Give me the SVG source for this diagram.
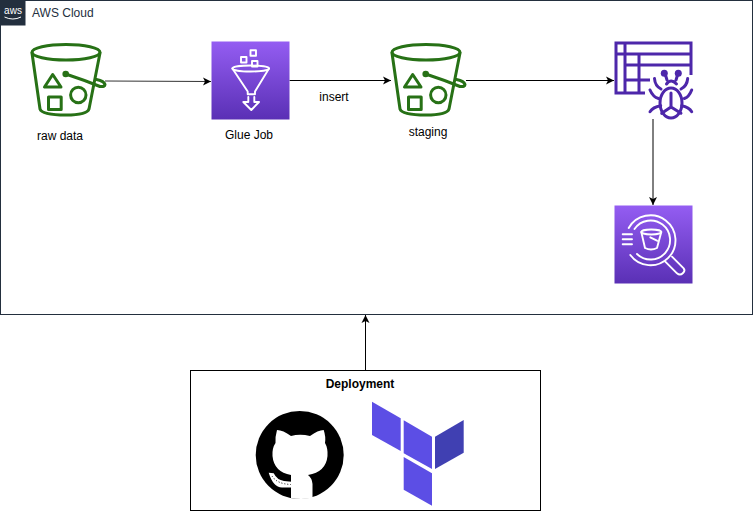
<svg xmlns="http://www.w3.org/2000/svg" width="753" height="515" viewBox="0 0 753 515">
<style>
text{font-family:"Liberation Sans",Arial,sans-serif;font-size:12px;fill:#000}
.m{text-anchor:middle}
.c{fill:none;stroke:#000;stroke-width:1}
.g{fill:none;stroke:#277116;stroke-width:3;stroke-linejoin:round;stroke-linecap:round}
.w{fill:none;stroke:#fff;stroke-width:1.9;stroke-linejoin:round;stroke-linecap:round}
.p{fill:none;stroke:#4d27aa;stroke-width:3}
.t{fill:#5c4ee5}
</style>
<defs>
<linearGradient id="pg" x1="0" y1="0" x2="0" y2="1"><stop offset="0" stop-color="#945df2"/><stop offset="1" stop-color="#5a30b5"/></linearGradient>
<marker id="a" viewBox="0 0 9 9" refX="8.500" refY="4.500" markerWidth="9" markerHeight="9" markerUnits="userSpaceOnUse" orient="auto"><path d="M0.500 0.500L8.500 4.500L0.500 8.500L2.500 4.500Z" fill="#000"/></marker>
<g id="bucket">
<ellipse class="g" cx="66" cy="52.300" rx="34" ry="7.800"/>
<path class="g" d="M32 53L40 109Q42 115 66 115Q87 115 89 109L100 53"/>
<circle cx="65.700" cy="74" r="3.300" fill="#277116"/>
<path class="g" d="M65.700 74Q84 80 100 86.500Q105 87 105 84.500Q104 81 96.500 79.500"/>
<path class="g" d="M52.700 74.500L44.500 87H61Z"/>
<rect class="g" x="48.500" y="97" width="12.700" height="12.500"/>
<circle class="g" cx="78.300" cy="95" r="7.700"/>
</g>
</defs>
<g id="aws-cloud">
<rect x="0.500" y="0.500" width="752" height="314" fill="#fff" stroke="#232f3e"/>
<rect x="0" y="0" width="25.500" height="25.500" fill="#232f3e"/>
<text x="13" y="14" class="m" style="font-size:10px;fill:#fff">aws</text>
<path d="M4.500 17Q13 21 21 17" fill="none" stroke="#fff" stroke-width="1"/>
<text x="32" y="17" style="fill:#232f3e">AWS Cloud</text>
</g>
<g id="connectors">
<path class="c" d="M105 81L211 81.500" marker-end="url(#a)" stroke-opacity="0.8"/>
<path class="c" d="M289.500 80.500H391" marker-end="url(#a)"/>
<path class="c" d="M466 80.500H614" marker-end="url(#a)"/>
<path class="c" d="M653 119V205" marker-end="url(#a)"/>
<path class="c" d="M365.500 370V315" marker-end="url(#a)"/>
</g>
<g id="raw-data">
<use href="#bucket"/>
<text x="60" y="140" class="m">raw data</text>
</g>
<g id="glue-job">
<rect x="211.500" y="41.500" width="78" height="78" fill="url(#pg)"/>
<ellipse class="w" cx="250.700" cy="68.500" rx="18.300" ry="3"/>
<path class="w" d="M232.400 68.500L247.700 91.500V94.300H255V91.500L269 68.500"/>
<rect class="w" x="241" y="57" width="5.500" height="5.500"/>
<rect class="w" x="250.500" y="50.200" width="5.500" height="5.500"/>
<rect class="w" x="252" y="61" width="5.500" height="5.500"/>
<path class="w" d="M248.300 97V102H243.300L251.300 110L259 102H254.300V97"/>
<text x="249" y="139" class="m">Glue Job</text>
</g>
<g id="staging">
<use href="#bucket" x="360"/>
<text x="428" y="136" class="m">staging</text>
</g>
<g id="glue-catalog">
<path class="p" d="M691 75V43H616V93H645M616 54H691M625 43V93M625 65H691M639 54V93M625 80H650"/>
<g class="p" stroke-linecap="round">
<ellipse cx="671" cy="103" rx="11" ry="15"/>
<path d="M671 93V107M671 107L661.700 113.300M671 107L681 113.300M665 73.500L667 80M678 73.500L676 80M666.500 84Q671 78 676.500 84M654.500 78.500Q655 86 661 89M687.700 78.500Q687 86 681 89M650 90Q653 97 658.500 98.500M691.700 90Q689 97 684.300 98.500M650 111.700Q653 107 660.700 105.700M691.700 111.700Q689 107 681.700 105.700"/>
</g>
<circle cx="664.300" cy="73.300" r="3.500" fill="#4d27aa"/>
<circle cx="678.300" cy="73.300" r="3.500" fill="#4d27aa"/>
</g>
<g id="macie">
<rect x="614.500" y="205.500" width="78" height="78" fill="url(#pg)"/>
<path class="w" d="M628.700 228A25 25 0 1 1 630.300 255M634.500 229A19.500 19.500 0 1 1 637 254"/>
<path class="w" d="M622.700 234.300H632M622.700 239.300H632M622.700 244.300H632"/>
<ellipse class="w" cx="651.300" cy="232" rx="10" ry="2.500"/>
<path class="w" d="M641.300 232L645 248Q651 251 657 248L661.300 232M650.300 237.300L657 240.700"/>
<path class="w" d="M665.300 261.700L677 273.300Q680 276 683 273Q685.500 270.500 683.700 268.300L672 256.700"/>
</g>
<g id="deployment">
<rect x="190.500" y="370.500" width="350" height="140" fill="#fff" stroke="#000"/>
<text x="360" y="388" class="m" style="font-weight:bold">Deployment</text>
<g id="github">
<circle cx="299.700" cy="455" r="44" fill="#000"/>
<path fill="#fff" d="M277 430Q283 430 291 436Q300 433.500 310 436Q318 430 323.700 430Q326 437 325 443Q328 448 327.500 456Q326 472 308 475Q312 478 312.500 484V498Q300 500 291 498V475Q274 472 272.500 456Q272 448 275.500 443Q275 437 277 430Z"/>
<path fill="#fff" d="M268.700 472.700L273.700 473.300Q277 480 284 481L291.500 481.700V487.500H282Q273 487 268.700 472.700Z"/>
<path d="M272 476Q277 484 291 484.500" fill="none" stroke="#000" stroke-width="1" stroke-dasharray="1 2"/>
</g>
<g id="terraform">
<polygon class="t" points="372,401.700 400.700,418.300 400.700,451 372,435"/>
<polygon class="t" points="403.700,420.300 432,436.700 432,469 403.700,453.300"/>
<polygon points="435,436.700 463.700,420 463.700,452.700 435,469" fill="#4040b2"/>
<polygon class="t" points="403.700,457 432,473.300 432,505.700 403.700,489.700"/>
</g>
</g>
<text x="334" y="101" class="m">insert</text>
</svg>
